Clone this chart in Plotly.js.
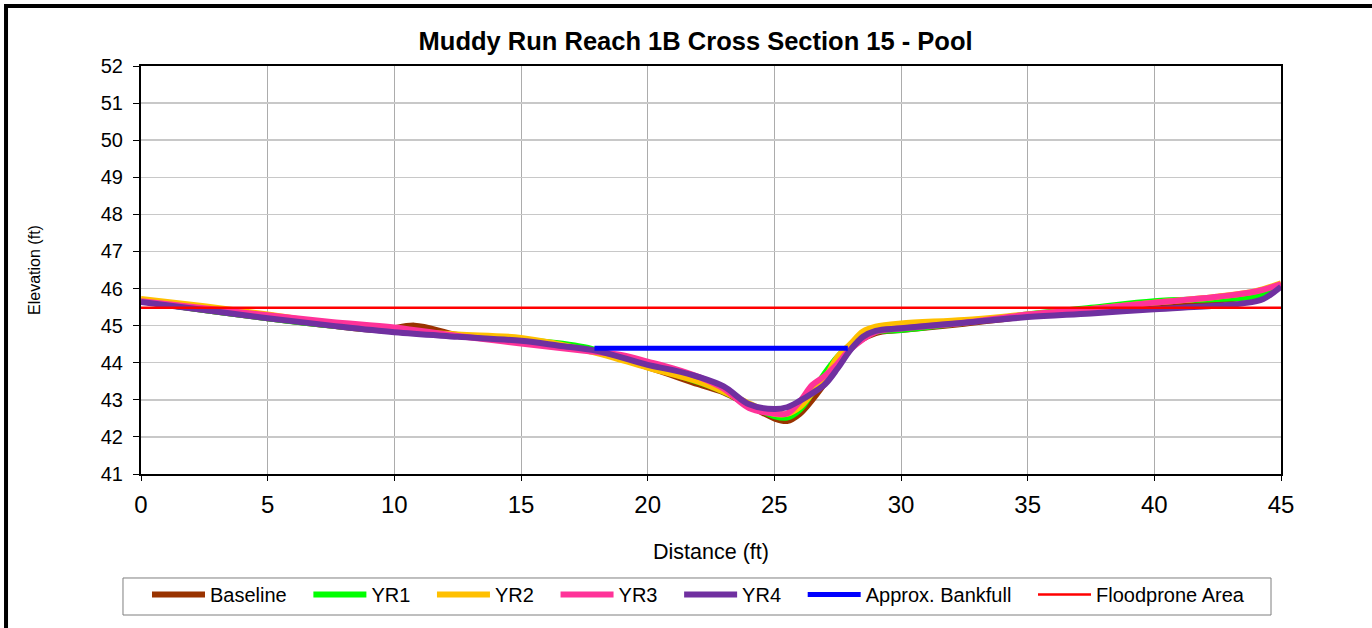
<!DOCTYPE html>
<html>
<head>
<meta charset="utf-8">
<script src="https://cdn.plot.ly/plotly-3.0.1.min.js"></script>
<style>html,body{margin:0;padding:0;background:#fff;}#chart{width:1372px;height:628px;}</style>
</head>
<body>
<div id="chart"></div>
<script>
// ---- data (distance in ft, elevation in ft) ----
var baselineX = [0, 2.5, 5, 7.5, 9.5, 10.8, 12.5, 15, 17.5, 20, 22, 23, 24, 25, 25.5, 26, 27, 28, 29, 30, 32.5, 35, 37.5, 40, 42.5, 44, 45];
var baselineY = [45.66, 45.42, 45.2, 45.0, 44.88, 45.0, 44.75, 44.6, 44.38, 43.88, 43.42, 43.2, 42.85, 42.5, 42.43, 42.62, 43.45, 44.4, 44.8, 44.88, 45.05, 45.25, 45.4, 45.55, 45.68, 45.82, 46.06];

var yr1X = [0, 2.5, 5, 7.5, 10, 12.5, 15, 17.5, 20, 22, 23, 24, 25, 25.5, 26, 26.5, 27, 27.5, 28, 29, 30, 32.5, 35, 37.5, 40, 42.5, 44, 45];
var yr1Y = [45.66, 45.42, 45.2, 45.0, 44.84, 44.72, 44.62, 44.42, 43.9, 43.48, 43.22, 42.88, 42.56, 42.52, 42.73, 43.2, 43.72, 44.16, 44.47, 44.83, 44.88, 45.08, 45.3, 45.48, 45.66, 45.72, 45.8, 46.06];

var yr2X = [0, 2.5, 5, 7.5, 10, 12.5, 15, 17.5, 20, 22, 23, 24, 25, 25.5, 26, 26.5, 27, 27.5, 28, 28.5, 29, 30, 32.5, 35, 37.5, 40, 42.5, 44, 45];
var yr2Y = [45.72, 45.52, 45.3, 45.05, 44.86, 44.76, 44.67, 44.35, 43.87, 43.49, 43.22, 42.9, 42.62, 42.62, 42.8, 43.18, 43.58, 44.16, 44.5, 44.84, 44.97, 45.06, 45.15, 45.3, 45.45, 45.62, 45.78, 45.93, 46.14];

var yr3X = [0, 2.5, 5, 7.5, 10, 12.5, 15, 17.5, 19, 20, 21, 22, 23, 24, 25, 25.5, 26, 26.5, 27, 27.5, 28, 29, 30, 32.5, 35, 37.5, 40, 42.5, 44, 45];
var yr3Y = [45.66, 45.47, 45.28, 45.1, 44.95, 44.72, 44.52, 44.32, 44.2, 44.03, 43.85, 43.62, 43.3, 42.78, 42.63, 42.63, 42.95, 43.4, 43.65, 43.98, 44.36, 44.83, 44.92, 45.08, 45.3, 45.45, 45.62, 45.78, 45.92, 46.12];

var yr4X = [0, 2.5, 5, 7.5, 10, 12.5, 15, 16.5, 18, 20, 21, 22, 23, 24, 25, 25.5, 26, 26.5, 27, 27.5, 28, 28.5, 29, 30, 32.5, 35, 37.5, 40, 42.5, 43.5, 44.3, 45];
var yr4Y = [45.64, 45.42, 45.2, 45.0, 44.82, 44.7, 44.59, 44.46, 44.32, 43.94, 43.8, 43.62, 43.36, 42.88, 42.75, 42.8, 42.97, 43.18, 43.42, 43.85, 44.34, 44.7, 44.86, 44.93, 45.08, 45.23, 45.33, 45.44, 45.54, 45.6, 45.72, 46.05];

var bankfullX = [17.9, 27.9];
var bankfullY = [44.39, 44.39];

var floodproneX = [0, 45];
var floodproneY = [45.48, 45.48];

var seriesNames = ['Baseline', 'YR1', 'YR2', 'YR3', 'YR4', 'Approx. Bankfull', 'Floodprone Area'];
var seriesColors = ['#993300', '#00FF00', '#FFC000', '#FF3399', '#7030A0', '#0000FF', '#FF0000'];

var xTicks = [0, 5, 10, 15, 20, 25, 30, 35, 40, 45];
var yTicks = [41, 42, 43, 44, 45, 46, 47, 48, 49, 50, 51, 52];

var FONT = '"Liberation Sans", Arial, sans-serif';
var PAD = '\u00a0\u00a0\u00a0'; // spacing after each legend label

function smoothTrace(x, y, i) {
  return {
    x: x, y: y, name: seriesNames[i] + PAD, type: 'scatter', mode: 'lines',
    line: {color: seriesColors[i], width: 6, shape: 'spline', smoothing: 1}
  };
}

var data = [
  smoothTrace(baselineX, baselineY, 0),
  smoothTrace(yr1X, yr1Y, 1),
  smoothTrace(yr2X, yr2Y, 2),
  smoothTrace(yr3X, yr3Y, 3),
  smoothTrace(yr4X, yr4Y, 4),
  {x: bankfullX, y: bankfullY, name: seriesNames[5] + PAD, type: 'scatter', mode: 'lines',
   line: {color: seriesColors[5], width: 5}},
  {x: floodproneX, y: floodproneY, name: seriesNames[6], type: 'scatter', mode: 'lines',
   line: {color: seriesColors[6], width: 2.5}}
];

var layout = {
  width: 1372, height: 628,
  margin: {l: 141, r: 91, t: 66, b: 154},
  paper_bgcolor: '#ffffff', plot_bgcolor: '#ffffff',
  font: {family: FONT, color: '#000000'},
  title: {
    text: '<b>Muddy Run Reach 1B Cross Section 15 - Pool</b>',
    font: {family: FONT, size: 25.5, color: '#000000'},
    x: 0.507, xref: 'container', xanchor: 'center',
    y: 0.935, yref: 'container', yanchor: 'middle'
  },
  xaxis: {
    range: [0, 45], tickvals: xTicks, ticktext: xTicks.map(String),
    showgrid: true, gridcolor: '#acacac', gridwidth: 1,
    showline: true, linecolor: '#000000', linewidth: 2, mirror: true,
    ticks: 'outside', ticklen: 5, tickcolor: '#000000', tickwidth: 1,
    ticklabelstandoff: 3,
    tickfont: {family: FONT, size: 24, color: '#000000'},
    zeroline: false, fixedrange: true,
    title: {text: 'Distance (ft)', font: {family: FONT, size: 21.5, color: '#000000'}, standoff: 27}
  },
  yaxis: {
    range: [41, 52], tickvals: yTicks, ticktext: yTicks.map(String),
    showgrid: true, gridcolor: '#c8c8c8', gridwidth: 1.5,
    showline: true, linecolor: '#000000', linewidth: 2, mirror: true,
    ticks: 'outside', ticklen: 6, tickcolor: '#000000', tickwidth: 1,
    ticklabelstandoff: 6,
    tickfont: {family: FONT, size: 20, color: '#000000'},
    zeroline: false, fixedrange: true,
    title: {text: 'Elevation (ft)', font: {family: FONT, size: 16, color: '#000000'}, standoff: 56}
  },
  showlegend: true,
  legend: {
    orientation: 'h', x: 0.00526, xanchor: 'left', y: -0.2475, yanchor: 'top',
    bgcolor: 'rgba(0,0,0,0)', borderwidth: 0,
    font: {family: FONT, size: 20, color: '#000000'},
    itemwidth: 53, traceorder: 'normal'
  },
  shapes: [
    {type: 'rect', xref: 'paper', yref: 'paper',
     x0: -0.1184, x1: 1.087, y0: -0.407, y1: 1.147,
     line: {color: '#000000', width: 4}, fillcolor: 'rgba(0,0,0,0)', layer: 'below'},
    {type: 'rect', xref: 'paper', yref: 'paper',
     x0: -0.01579, x1: 0.99123, y0: -0.3456, y1: -0.2549,
     line: {color: '#7f7f7f', width: 1}, fillcolor: '#ffffff', layer: 'below'}
  ]
};

Plotly.newPlot('chart', data, layout, {staticPlot: true, displayModeBar: false});
</script>
</body>
</html>
